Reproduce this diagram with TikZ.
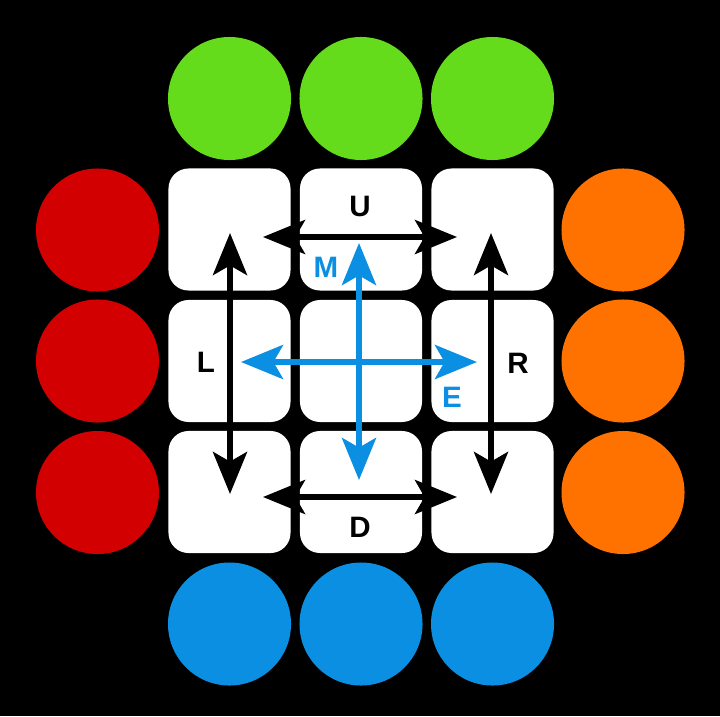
\documentclass[tikz,border=0pt]{standalone}
\usepackage{fontspec}
\setmainfont{Liberation Sans}
\usepackage{tikz}
\usetikzlibrary{arrows.meta}
\definecolor{CubeGreen}{HTML}{64DC1B}
\definecolor{CubeRed}{HTML}{D20000}
\definecolor{CubeOrange}{HTML}{FF7200}
\definecolor{CubeBlue}{HTML}{0B8FE2}

\tikzset{
  tile/.style={fill=white,rounded corners=0.5cm,minimum size=3.05cm,inner sep=0pt},
  sticker/.style={circle,minimum size=3.075cm,inner sep=0pt},
  turn/.style={line width=0.14cm,{Stealth[length=1.05cm,width=0.85cm,inset=0.24cm]}-{Stealth[length=1.05cm,width=0.85cm,inset=0.24cm]}},
  movelbl/.style={font=\fontsize{21}{21}\selectfont\bfseries}
}

\begin{document}
\begin{tikzpicture}[x=0.025cm,y=-0.025cm]
\path[use as bounding box] (0,0) rectangle (720,716);
\fill[black] (0,0) rectangle (720,716);
% stickers round the face
\node[sticker,fill=CubeGreen] (g1) at (229.5,98.5) {};
\node[sticker,fill=CubeGreen] (g2) at (361,98.5) {};
\node[sticker,fill=CubeGreen] (g3) at (492.5,98.5) {};
\node[sticker,fill=CubeRed] (r1) at (97.5,230) {};
\node[sticker,fill=CubeRed] (r2) at (97.5,361) {};
\node[sticker,fill=CubeRed] (r3) at (97.5,492.5) {};
\node[sticker,fill=CubeOrange] (o1) at (623,230) {};
\node[sticker,fill=CubeOrange] (o2) at (623,361) {};
\node[sticker,fill=CubeOrange] (o3) at (623,492.5) {};
\node[sticker,fill=CubeBlue] (b1) at (229.5,624) {};
\node[sticker,fill=CubeBlue] (b2) at (361,624) {};
\node[sticker,fill=CubeBlue] (b3) at (492.5,624) {};
% front face
\node[tile] (t11) at (229.5,229.5) {};
\node[tile] (t12) at (361,229.5) {};
\node[tile] (t13) at (492.5,229.5) {};
\node[tile] (t21) at (229.5,361) {};
\node[tile] (t22) at (361,361) {};
\node[tile] (t23) at (492.5,361) {};
\node[tile] (t31) at (229.5,492) {};
\node[tile] (t32) at (361,492) {};
\node[tile] (t33) at (492.5,492) {};
% arrow ends
\coordinate (Uw) at (263,237);
\coordinate (Ue) at (457,237);
\coordinate (Dw) at (263,497);
\coordinate (De) at (457,497);
\coordinate (Ln) at (230,233);
\coordinate (Ls) at (230,494);
\coordinate (Rn) at (491,233);
\coordinate (Rs) at (491,494);
\coordinate (Mn) at (359,243);
\coordinate (Ms) at (359,480);
\coordinate (Ew) at (241,362);
\coordinate (Ee) at (477,362);
\draw[turn] (Uw) -- (Ue);
\draw[turn] (Dw) -- (De);
\draw[turn] (Ln) -- (Ls);
\draw[turn] (Rn) -- (Rs);
\draw[turn,CubeBlue] (Ew) -- (Ee);
\draw[turn,CubeBlue] (Mn) -- (Ms);
% move names
\node[movelbl] (lU) at (360,206) {U};
\node[movelbl] (lD) at (360,527) {D};
\node[movelbl] (lL) at (206,362) {L};
\node[movelbl] (lR) at (518,363) {R};
\node[movelbl,text=CubeBlue] (lM) at (326,267) {M};
\node[movelbl,text=CubeBlue] (lE) at (452,397) {E};
\end{tikzpicture}
\end{document}
